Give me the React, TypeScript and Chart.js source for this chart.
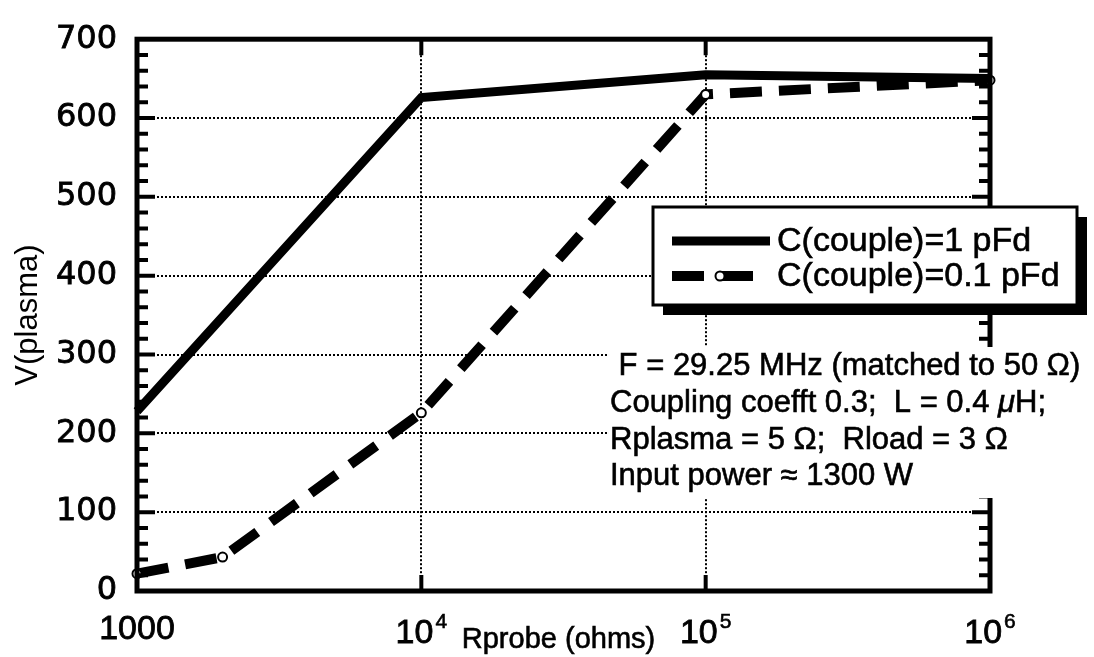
import React, { useEffect, useRef } from 'react';
import { Chart, registerables } from 'chart.js';

Chart.register(...registerables);

// ---------- data ----------
const solidR = [1000, 10000, 100000, 1000000];
const solidV = [228, 626, 655, 650];
const dashedR = [1000, 2000, 10000, 100000, 1000000];
const dashedV = [22, 43, 226, 630, 648];
const seriesLabels = ['C(couple)=1 pFd', 'C(couple)=0.1 pFd'];

const xTickValues = [1000, 10000, 100000, 1000000];
const xTickBase = ['1000', '10', '10', '10'];
const xTickExp = ['', '4', '5', '6'];
const yMin = 0;
const yMax = 700;
const yMajorStep = 100;
const yMinorStep = 20;

const xTitle = 'Rprobe (ohms)';
const yTitle = 'V(plasma)';

const noteLines = [
  [{ t: ' F = 29.25 MHz (matched to 50 \u03A9)' }],
  [{ t: 'Coupling coefft 0.3;  L = 0.4 ' }, { t: '\u03BC', italic: true }, { t: 'H;' }],
  [{ t: 'Rplasma = 5 \u03A9;  Rload = 3 \u03A9' }],
  [{ t: 'Input power \u2248 1300 W' }],
];

const SANS = "'Liberation Sans', Arial, sans-serif";

function heavyText(ctx: any, s: string, x: number, y: number, w = 0.7) {
  ctx.fillText(s, x, y);
  ctx.lineWidth = w;
  ctx.strokeText(s, x, y);
}

const decor = {
  id: 'decor',
  beforeDatasetsDraw(chart: any) {
    const { ctx, chartArea, scales } = chart;
    const { left, right, top, bottom } = chartArea;
    const x = scales.x;
    const y = scales.y;
    ctx.save();
    ctx.strokeStyle = '#000';
    ctx.lineWidth = 2;
    ctx.setLineDash([2, 2]);
    for (let v = yMin + yMajorStep; v < yMax; v += yMajorStep) {
      const py = Math.round(y.getPixelForValue(v));
      ctx.beginPath();
      ctx.moveTo(left, py);
      ctx.lineTo(right, py);
      ctx.stroke();
    }
    for (const v of xTickValues.slice(1, -1)) {
      const px = Math.round(x.getPixelForValue(v));
      ctx.beginPath();
      ctx.moveTo(px, top);
      ctx.lineTo(px, bottom);
      ctx.stroke();
    }
    ctx.restore();
  },
  afterDatasetsDraw(chart: any) {
    const { ctx, chartArea, scales } = chart;
    const { left, right, top, bottom } = chartArea;
    const x = scales.x;
    const y = scales.y;
    ctx.save();
    ctx.strokeStyle = '#000';
    ctx.fillStyle = '#000';
    ctx.setLineDash([]);

    // y tick marks (inside, both sides)
    ctx.lineWidth = 4;
    for (let v = yMin + yMinorStep; v < yMax; v += yMinorStep) {
      const py = y.getPixelForValue(v);
      const len = v % yMajorStep === 0 ? 18 : 11;
      ctx.beginPath();
      ctx.moveTo(left, py);
      ctx.lineTo(left + len, py);
      ctx.moveTo(right, py);
      ctx.lineTo(right - len, py);
      ctx.stroke();
    }
    // x tick marks (top and bottom)
    for (const v of xTickValues.slice(1, -1)) {
      const px = x.getPixelForValue(v);
      ctx.beginPath();
      ctx.moveTo(px, top);
      ctx.lineTo(px, top + 16);
      ctx.moveTo(px, bottom);
      ctx.lineTo(px, bottom - 16);
      ctx.stroke();
    }
    // frame
    ctx.lineWidth = 5;
    ctx.strokeRect(left, top, right - left, bottom - top);

    // annotation block
    ctx.fillStyle = '#fff';
    ctx.fillRect(609, 347, chart.width - 609, 151);
    ctx.fillStyle = '#000';
    ctx.strokeStyle = '#000';
    ctx.textBaseline = 'alphabetic';
    ctx.textAlign = 'left';
    const baselines = [375, 412, 449, 485];
    noteLines.forEach((segs: any[], i: number) => {
      let cx = 610;
      for (const s of segs) {
        ctx.font = (s.italic ? 'italic ' : '') + '31px ' + SANS;
        heavyText(ctx, s.t, cx, baselines[i], 0.6);
        cx += ctx.measureText(s.t).width;
      }
    });

    // legend
    const lx = 653, ly = 207, lw = 424, lh = 98, sh = 10;
    ctx.fillStyle = '#000';
    ctx.fillRect(lx + lw, ly + sh, sh, lh);
    ctx.fillRect(lx + sh, ly + lh, lw, sh);
    ctx.fillStyle = '#fff';
    ctx.fillRect(lx, ly, lw, lh);
    ctx.lineWidth = 3;
    ctx.strokeRect(lx, ly, lw, lh);
    const ds = chart.data.datasets;
    const itemY = [241, 276];
    ds.forEach((d: any, i: number) => {
      const yy = itemY[i];
      ctx.strokeStyle = '#000';
      ctx.lineWidth = d.borderWidth;
      ctx.lineCap = 'butt';
      ctx.setLineDash(d.borderDash || []);
      ctx.beginPath();
      ctx.moveTo(672, yy);
      ctx.lineTo(770, yy);
      ctx.stroke();
      ctx.setLineDash([]);
      if (d.pointRadius > 0) {
        ctx.beginPath();
        ctx.arc(720, yy, d.pointRadius, 0, Math.PI * 2);
        ctx.fillStyle = '#fff';
        ctx.fill();
        ctx.lineWidth = d.pointBorderWidth;
        ctx.stroke();
      }
      ctx.fillStyle = '#000';
      ctx.font = '34px ' + SANS;
      ctx.textBaseline = 'middle';
      heavyText(ctx, d.label, 777, yy + 1, 0.6);
    });

    // x tick labels
    ctx.textBaseline = 'alphabetic';
    ctx.fillStyle = '#000';
    xTickValues.forEach((v, i) => {
      const px = x.getPixelForValue(v);
      ctx.font = '34px ' + SANS;
      const wb = ctx.measureText(xTickBase[i]).width;
      ctx.font = '21px ' + SANS;
      const we = xTickExp[i] ? ctx.measureText(xTickExp[i]).width + 2 : 0;
      const start = px - (wb + we) / 2;
      ctx.font = '34px ' + SANS;
      ctx.textAlign = 'left';
      heavyText(ctx, xTickBase[i], start, xTickExp[i] ? 643 : 639, 0.8);
      if (xTickExp[i]) {
        ctx.font = '21px ' + SANS;
        heavyText(ctx, xTickExp[i], start + wb + 2, 628, 0.6);
      }
    });
    // x title
    ctx.font = '29px ' + SANS;
    ctx.textAlign = 'center';
    heavyText(ctx, xTitle, (left + right) / 2 - 5, 648, 0.6);
    ctx.restore();
  },
};

export default function App() {
  const ref = useRef<HTMLCanvasElement>(null);
  useEffect(() => {
    if (!ref.current) return;
    const chart = new Chart(ref.current, {
      type: 'line',
      data: {
        datasets: [
          {
            label: seriesLabels[0],
            data: solidR.map((r, i) => ({ x: r, y: solidV[i] })),
            borderColor: '#000',
            borderWidth: 9,
            pointRadius: 0,
            tension: 0,
            clip: false,
          },
          {
            label: seriesLabels[1],
            data: dashedR.map((r, i) => ({ x: r, y: dashedV[i] })),
            borderColor: '#000',
            borderWidth: 10,
            borderDash: [32, 17],
            borderCapStyle: 'butt',
            pointRadius: 4.5,
            pointBorderWidth: 2,
            pointBorderColor: '#000',
            pointBackgroundColor: '#fff',
            tension: 0,
            clip: false,
          },
        ] as any,
      },
      options: {
        animation: false,
        responsive: false,
        maintainAspectRatio: false,
        layout: { padding: { top: 32, right: 104, bottom: 66, left: 0 } },
        plugins: { legend: { display: false }, tooltip: { enabled: false } },
        scales: {
          x: {
            type: 'logarithmic',
            min: 1000,
            max: 1000000,
            display: false,
          },
          y: {
            min: yMin,
            max: yMax,
            grid: { display: false, drawTicks: false },
            border: { display: false },
            afterFit: (s: any) => {
              s.width = 137;
            },
            ticks: {
              stepSize: yMajorStep,
              padding: 20,
              color: '#000',
              textStrokeColor: '#000',
              textStrokeWidth: 0.8,
              font: { family: "'DejaVu Sans'", size: 32 },
            },
            title: {
              display: true,
              text: yTitle,
              color: '#000',
              font: { family: SANS, size: 31 },
              padding: { top: 10, bottom: 0 },
            },
          },
        } as any,
      },
      plugins: [decor],
    });
    return () => chart.destroy();
  }, []);
  return (
    <div style={{ position: 'absolute', left: 0, top: 0, width: 1094, height: 657, background: '#fff' }}>
      <canvas ref={ref} width={1094} height={657} />
    </div>
  );
}
